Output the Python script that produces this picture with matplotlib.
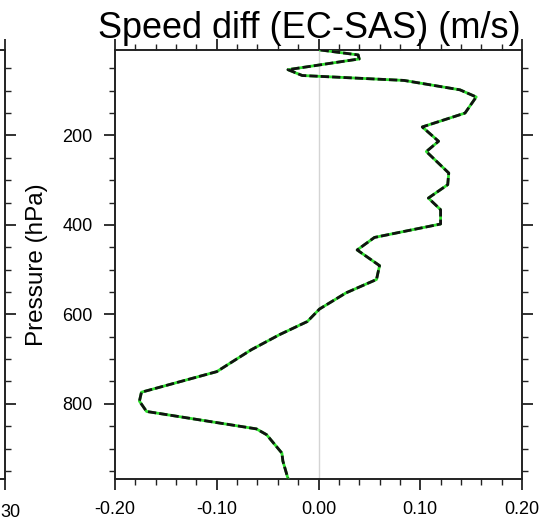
import matplotlib
matplotlib.use("Agg")
import matplotlib.pyplot as plt
from matplotlib.ticker import MultipleLocator, FixedLocator, NullFormatter

plt.rcParams['font.family'] = ['Liberation Sans', 'DejaVu Sans']

# Data (pressure in hPa, speed difference in m/s)
pressure = [9, 20, 29, 53, 66, 77, 98, 114, 150, 181, 213, 236, 284, 310, 340,
            366, 398, 428, 456, 491, 522, 552, 588, 616, 645, 679, 728, 774,
            794, 817, 856, 869, 910, 928, 967]
speed_diff = [0.002, 0.039, 0.040, -0.030, -0.016, 0.084, 0.139, 0.155, 0.144,
              0.102, 0.118, 0.106, 0.128, 0.127, 0.108, 0.120, 0.120, 0.055,
              0.038, 0.060, 0.057, 0.027, 0.001, -0.011, -0.038, -0.066,
              -0.100, -0.174, -0.176, -0.169, -0.061, -0.051, -0.036, -0.035,
              -0.030]

x_ticks = [-0.20, -0.10, 0.00, 0.10, 0.20]
x_ticklabels = ["-0.20", "-0.10", "0.00", "0.10", "0.20"]
y_ticks = [200, 400, 600, 800]
left_x_ticks = [-0.30, -0.20, -0.10, 0.00, 0.10, 0.20, 0.30]
left_edge_label = "30"   # visible fragment of the neighbouring panel's "0.30"

W, H = 551, 522
fig = plt.figure(figsize=(W / 100, H / 100), dpi=100)

ax_l, ax_r, ax_t, ax_b = 115, 522, 50, 479
ax = fig.add_axes([ax_l / W, 1 - ax_b / H, (ax_r - ax_l) / W, (ax_b - ax_t) / H])

ylim = (968, 9)
tick_fs = 13


def style_axes(a):
    for s in a.spines.values():
        s.set_linewidth(1.4)
        s.set_color('#222222')
    a.tick_params(which='both', direction='out', color='#222222', width=1.3,
                  top=True, right=True, labelsize=tick_fs)
    a.tick_params(which='major', length=8.2)
    a.tick_params(which='minor', length=4.4, width=1.0)


# Left partial panel (the edge of a neighbouring panel)
axL = fig.add_axes([(5 - 407) / W, 1 - ax_b / H, 407 / W, (ax_b - ax_t) / H])
axL.set_xlim(-0.30, 0.30)
axL.set_ylim(*ylim)
axL.xaxis.set_major_locator(FixedLocator(left_x_ticks))
axL.xaxis.set_major_formatter(NullFormatter())
axL.xaxis.set_minor_locator(MultipleLocator(0.02))
axL.yaxis.set_major_locator(FixedLocator(y_ticks))
axL.yaxis.set_minor_locator(MultipleLocator(50))
axL.yaxis.set_major_formatter(NullFormatter())
style_axes(axL)
fig.text(0 / W, 1 - 517 / H, left_edge_label, fontsize=tick_fs, ha='left',
         va='baseline')

# Main panel
ax.axvline(0.0, color='#d4d4d4', lw=1.0, zorder=1)
ax.plot(speed_diff, pressure, color='#2ee02e', lw=2.0, zorder=3,
        solid_joinstyle='round')
ax.plot(speed_diff, pressure, color='#111111', lw=2.0, zorder=4,
        dashes=(3.0, 1.1), dash_joinstyle='round')

ax.set_xlim(-0.20, 0.20)
ax.set_ylim(*ylim)
ax.xaxis.set_major_locator(FixedLocator(x_ticks))
ax.set_xticklabels(x_ticklabels)
ax.xaxis.set_minor_locator(MultipleLocator(0.02))
ax.yaxis.set_major_locator(FixedLocator(y_ticks))
ax.yaxis.set_minor_locator(MultipleLocator(50))
style_axes(ax)
ax.tick_params(axis='x', pad=8)
ax.tick_params(axis='y', pad=8)

ax.set_ylabel("Pressure (hPa)", fontsize=17.5)
ax.yaxis.set_label_coords((48 - ax_l) / (ax_r - ax_l), 0.5)

fig.text(309 / W, 1 - 38 / H, "Speed diff (EC-SAS) (m/s)", fontsize=26,
         ha='center', va='baseline')

fig.savefig("out.png", dpi=100)
